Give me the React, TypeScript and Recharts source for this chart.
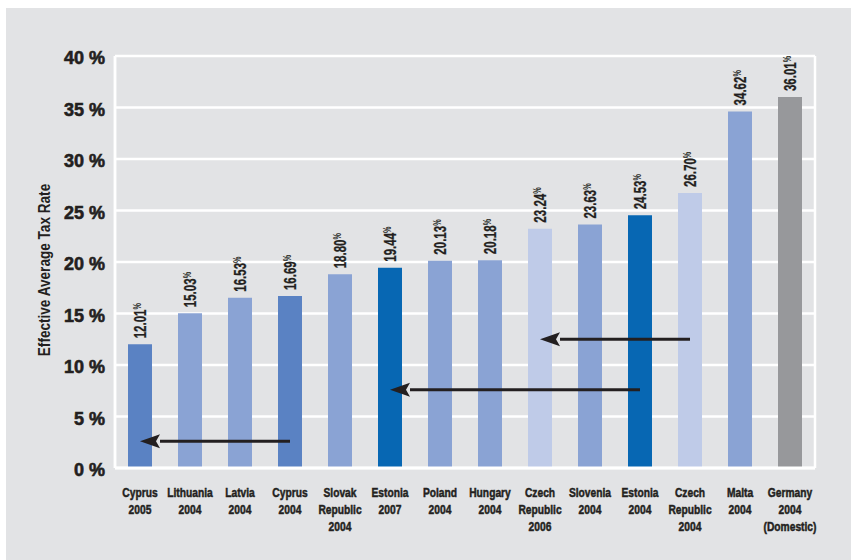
import { BarChart, Bar, XAxis, YAxis, CartesianGrid, Cell, LabelList, ReferenceLine } from 'recharts';

const CATEGORIES = [
  'Cyprus\n2005',
  'Lithuania\n2004',
  'Latvia\n2004',
  'Cyprus\n2004',
  'Slovak\nRepublic\n2004',
  'Estonia\n2007',
  'Poland\n2004',
  'Hungary\n2004',
  'Czech\nRepublic\n2006',
  'Slovenia\n2004',
  'Estonia\n2004',
  'Czech\nRepublic\n2004',
  'Malta\n2004',
  'Germany\n2004\n(Domestic)',
];
const RATES = [12.01, 15.03, 16.53, 16.69, 18.8, 19.44, 20.13, 20.18, 23.24, 23.63, 24.53, 26.7, 34.62, 36.01];
const BAR_COLORS = [
  '#5a82c3', '#8aa3d4', '#8aa3d4', '#5a82c3', '#8aa3d4', '#0767b3', '#8aa3d4',
  '#8aa3d4', '#bfcbe8', '#8aa3d4', '#0767b3', '#bfcbe8', '#8aa3d4', '#97989b',
];
const Y_TICKS = [0, 5, 10, 15, 20, 25, 30, 35, 40];

// arrows: from later year back to the earlier one
const ARROW_FROM = [11, 10, 3];
const ARROW_TO = [8, 5, 0];
const ARROW_LEVEL = [12.5, 7.6, 2.6];

const data = CATEGORIES.map((name, i) => ({ name, rate: RATES[i] }));

// no narrow face installed, so squeeze Liberation Sans Bold horizontally
const SANS = '"Liberation Sans", Arial, sans-serif';
const SQUEEZE = 0.76;
const BG = '#e2e3e5';
const INK = '#231f20';

const CategoryTick = (props: any) => {
  const { x, y, payload } = props;
  const lines = String(payload.value).split('\n');
  return (
    <g transform={`translate(${x},${y})`}>
      {lines.map((l, i) => (
        <text
          key={i}
          x={0}
          y={0}
          transform={`translate(0, ${21 + i * 17}) scale(${SQUEEZE}, 1)`}
          textAnchor="middle"
          fontFamily={SANS}
          fontWeight="bold"
          fontSize={13.5}
          fill={INK}
          stroke={INK}
          strokeWidth={0.5}
        >
          {l}
        </text>
      ))}
    </g>
  );
};

const ValueLabel = (props: any) => {
  const { x, y, width, value } = props;
  const cx = x + width / 2 + 6;
  const cy = y - 6;
  return (
    <text
      x={0}
      y={0}
      transform={`translate(${cx}, ${cy}) rotate(-90) scale(0.72, 1)`}
      textAnchor="start"
      fontFamily={SANS}
      fontWeight="bold"
      fontSize={16}
      fill={INK}
      stroke={INK}
      strokeWidth={0.3}
    >
      {Number(value).toFixed(2)}
      <tspan fontSize={10} dy={-5} strokeWidth={0}>%</tspan>
    </text>
  );
};

const Arrow = (props: any) => {
  const { x1, y1, x2, y2 } = props;
  const dir = x2 < x1 ? 1 : -1;
  const head = 20;
  return (
    <g>
      <line x1={x1} y1={y1} x2={x2 + dir * head} y2={y2} stroke={INK} strokeWidth={3} />
      <polygon
        points={`${x2},${y2} ${x2 + dir * head},${y2 - 7} ${x2 + dir * (head - 4)},${y2} ${x2 + dir * head},${y2 + 7}`}
        fill={INK}
      />
    </g>
  );
};

export default function App() {
  return (
    <div style={{ position: 'absolute', left: 0, top: 0, width: 851, height: 560, background: '#fff' }}>
      <div style={{ position: 'absolute', left: 6, top: 8, width: 845, height: 552, background: BG }}>
        <BarChart
          width={845}
          height={552}
          data={data}
          margin={{ top: 48, right: 36, left: 0, bottom: 0 }}
          barSize={24}
        >
          <CartesianGrid
            stroke="#ffffff"
            strokeWidth={2.5}
            verticalCoordinatesGenerator={({ offset }: any) => [offset.left, offset.left + offset.width]}
          />
          <XAxis
            dataKey="name"
            interval={0}
            tickLine={false}
            axisLine={{ stroke: '#ffffff', strokeWidth: 3 }}
            height={92}
            tick={<CategoryTick />}
          />
          <YAxis
            type="number"
            domain={[0, 40]}
            ticks={Y_TICKS}
            width={109}
            tickLine={false}
            axisLine={{ stroke: '#ffffff', strokeWidth: 2.5 }}
            tickMargin={4}
            tickFormatter={(v) => `${v} %`}
            tick={{ fontFamily: SANS, fontWeight: 'bold', fontSize: 18, fill: INK, stroke: INK, strokeWidth: 0.6, dy: 2 }}
            label={{
              content: (p: any) => {
                const vb = p.viewBox;
                const cx = 44;
                const cy = vb.y + vb.height / 2 + 8;
                return (
                  <text
                    x={0}
                    y={0}
                    transform={`translate(${cx}, ${cy}) rotate(-90) scale(0.8, 1)`}
                    textAnchor="middle"
                    fontFamily={SANS}
                    fontWeight="bold"
                    fontSize={17}
                    fill={INK}
                  >
                    Effective Average Tax Rate
                  </text>
                );
              },
            }}
          />
          <Bar dataKey="rate" isAnimationActive={false}>
            {data.map((d, i) => (
              <Cell key={`c-${i}`} fill={BAR_COLORS[i]} />
            ))}
            <LabelList dataKey="rate" content={<ValueLabel />} />
          </Bar>
          {ARROW_FROM.map((f, i) => (
            <ReferenceLine
              key={`a-${i}`}
              segment={[
                { x: CATEGORIES[f], y: ARROW_LEVEL[i] },
                { x: CATEGORIES[ARROW_TO[i]], y: ARROW_LEVEL[i] },
              ]}
              shape={<Arrow />}
            />
          ))}
        </BarChart>
      </div>
    </div>
  );
}
